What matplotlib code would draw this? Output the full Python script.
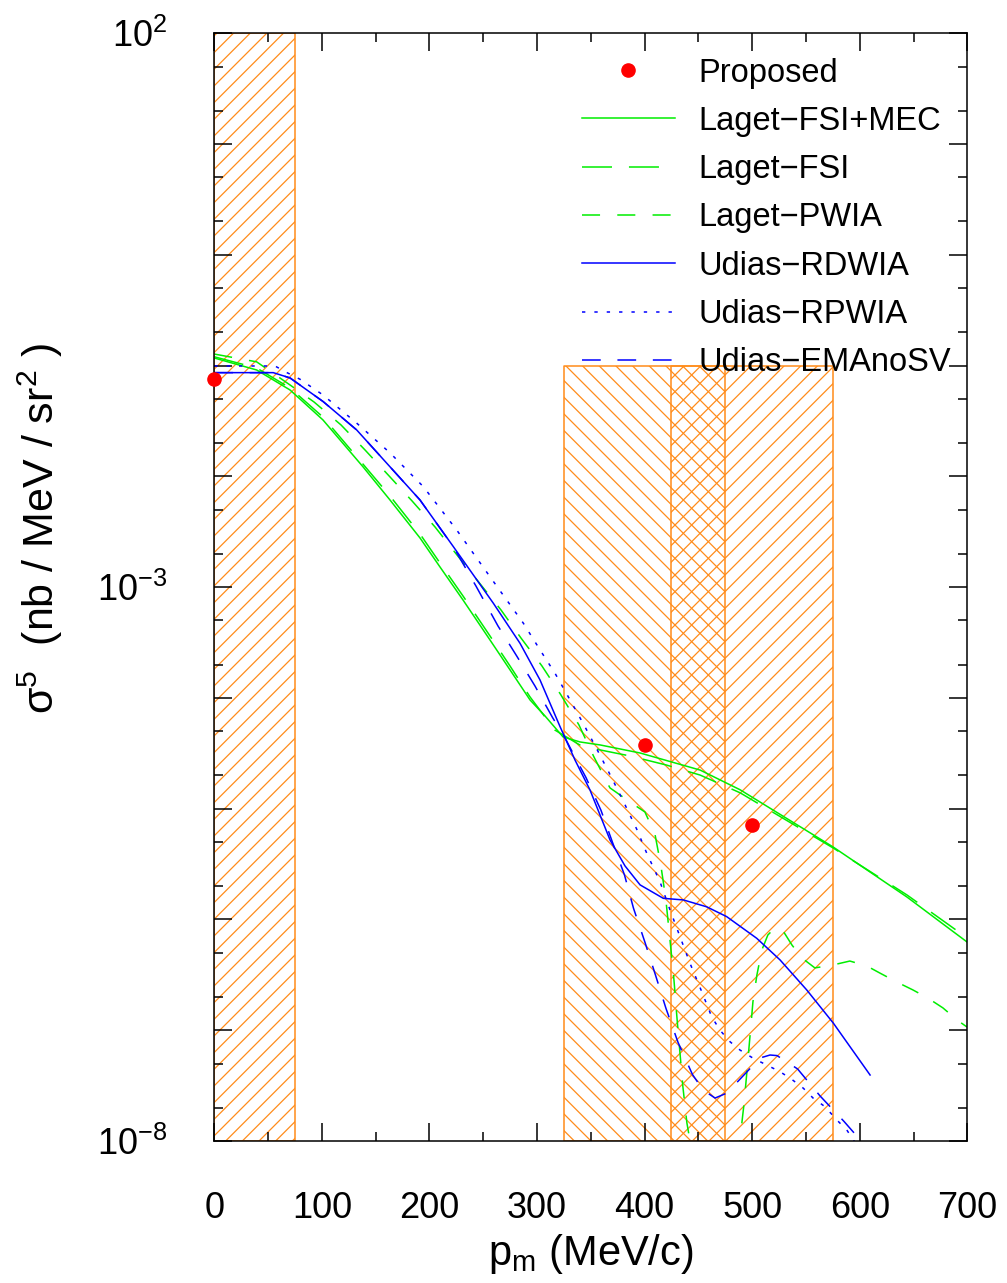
import numpy as np
import matplotlib
matplotlib.use("Agg")
import matplotlib.pyplot as plt
from matplotlib.ticker import MultipleLocator, LogLocator, FixedLocator, FuncFormatter, NullFormatter

plt.rcParams['font.family'] = ['Liberation Sans', 'DejaVu Sans']
plt.rcParams['mathtext.fontset'] = 'custom'
plt.rcParams['mathtext.rm'] = 'Liberation Sans'
plt.rcParams['mathtext.it'] = 'Liberation Sans:italic'
plt.rcParams['mathtext.default'] = 'rm'
plt.rcParams['hatch.linewidth'] = 0.9
plt.rcParams['lines.scale_dashes'] = False

# proposed measurements
prop_p = [0, 400, 500]
prop_sig = [7.6e-2, 3.76e-5, 7.13e-6]

# Laget FSI+MEC
fsimec_p = [0, 39.4, 70.4, 101.0, 138.2, 163.3, 191.2, 209.8, 231.2, 256.3, 274.9, 293.5, 307.4,
            324.2, 340.0, 358.6, 395.8, 451.6, 488.8, 575.2, 644.0, 699.8]
fsimec_sig = [1.17e-1, 9.12e-2, 6.02e-2, 3.23e-2, 1.22e-2, 6.12e-3, 2.78e-3, 1.52e-3, 7.65e-4, 3.33e-4,
              1.79e-4, 9.58e-5, 6.87e-5, 4.44e-5, 4.00e-5, 3.76e-5, 3.18e-5, 2.23e-5, 1.48e-5,
              4.51e-6, 1.59e-6, 6.25e-7]

# Laget FSI
fsi_p = [0, 39.4, 70.4, 101.0, 138.2, 163.3, 191.2, 209.8, 231.2, 256.3, 274.9, 293.5, 316.5,
         339.7, 358.6, 386.4, 420.0, 451.6, 488.8, 575.2, 644.0, 699.8]
fsi_sig = [1.20e-1, 9.51e-2, 6.28e-2, 3.43e-2, 1.29e-2, 6.65e-3, 3.02e-3, 1.65e-3, 8.32e-4, 3.62e-4,
           1.94e-4, 1.02e-4, 5.13e-5, 3.76e-5, 3.39e-5, 2.99e-5, 2.48e-5, 2.01e-5, 1.39e-5,
           4.42e-6, 1.66e-6, 6.81e-7]

# Laget PWIA
pwia_p = [0, 39.4, 70.4, 92.7, 117.8, 140.1, 162.4, 183.8, 205.2, 225.6, 266.5, 285.1, 304.6, 322.3,
          339.0, 352.9, 367.8, 386.4, 400.3, 409.6, 415.2, 419.8, 423.6, 427.3, 430.1, 432.8, 435.6,
          439.3, 446.8, 465.4, 481.2, 488.6, 492.3, 495.1, 497.9, 500.7, 504.4, 509.0, 514.6, 521.1,
          527.6, 536.9, 546.2, 558.3, 575.0, 590.8, 606.6, 618.7, 634.5, 649.4, 663.3, 677.3, 690.3, 699.6]
pwia_sig = [1.27e-1, 1.08e-1, 6.68e-2, 4.69e-2, 2.91e-2, 1.73e-2, 1.01e-2, 6.00e-3, 3.49e-3, 1.95e-3,
            6.22e-4, 3.47e-4, 1.94e-4, 1.06e-4, 5.69e-5, 2.93e-5, 1.54e-5, 1.15e-5, 9.33e-6, 5.91e-6,
            3.04e-6, 1.50e-6, 6.53e-7, 2.84e-7, 1.29e-7, 6.37e-8, 3.08e-8, 1.46e-8, 5.5e-9, 1.9e-9,
            4.5e-9, 1.02e-8, 2.11e-8, 4.20e-8, 8.69e-8, 1.80e-7, 3.15e-7, 5.30e-7, 7.24e-7, 8.37e-7,
            8.20e-7, 5.89e-7, 4.49e-7, 3.65e-7, 3.88e-7, 4.21e-7, 3.80e-7, 3.28e-7, 2.72e-7, 2.31e-7,
            1.95e-7, 1.59e-7, 1.24e-7, 1.07e-7]

# Udias RDWIA
rdwia_p = [0, 54.8, 70.4, 101.3, 132.4, 163.3, 191.2, 222.2, 259.4, 284.2, 302.8, 321.4, 335.3, 349.3,
           367.9, 381.8, 395.8, 417.4, 436.0, 457.7, 476.3, 504.2, 525.9, 550.7, 575.4, 609.6]
rdwia_sig = [8.63e-2, 8.63e-2, 7.73e-2, 4.72e-2, 2.62e-2, 1.22e-2, 6.12e-3, 2.32e-3, 7.15e-4, 3.11e-4,
             1.45e-4, 5.50e-5, 2.75e-5, 1.47e-5, 5.21e-6, 3.04e-6, 2.05e-6, 1.55e-6, 1.50e-6, 1.30e-6,
             1.06e-6, 6.76e-7, 4.31e-7, 2.31e-7, 1.16e-7, 3.94e-8]

# Udias RPWIA
rpwia_p = [0, 56.4, 67.6, 79.7, 101.0, 132.4, 163.3, 194.3, 225.3, 256.3, 287.3, 302.8, 316.7, 330.7,
           343.7, 356.0, 368.8, 380.9, 392.7, 402.0, 414.3, 423.6, 432.9, 442.2, 453.1, 462.4, 470.1,
           479.4, 488.7, 501.1, 513.5, 525.9, 536.8, 547.6, 556.8, 567.7, 578.6, 587.9, 594.0, 600.3]
rpwia_sig = [9.91e-2, 9.91e-2, 8.63e-2, 7.52e-2, 5.43e-2, 3.02e-2, 1.63e-2, 8.07e-3, 3.28e-3, 1.24e-3,
             4.72e-4, 2.71e-4, 1.67e-4, 9.58e-5, 5.69e-5, 3.39e-5, 1.95e-5, 1.13e-5, 6.52e-6, 3.96e-6,
             2.19e-6, 1.22e-6, 6.99e-7, 4.02e-7, 2.23e-7, 1.32e-7, 1.00e-7, 7.87e-8, 6.62e-8, 5.57e-8,
             4.85e-8, 4.22e-8, 3.60e-8, 2.99e-8, 2.43e-8, 2.04e-8, 1.55e-8, 1.26e-8, 1.02e-8, 8.3e-9]

# Udias EMA noSV
ema_p = [0, 54.8, 70.4, 101.3, 132.4, 163.3, 191.2, 222.2, 243.3, 263.7, 281.1, 298.1, 314.4, 326.0,
         337.2, 345.5, 359.5, 370.2, 381.3, 389.7, 400.4, 410.1, 419.9, 431.1, 444.5, 454.3, 465.5,
         476.6, 491.0, 507.3, 516.6, 523.1, 542.2, 563.1, 585.4, 596.5, 604.9]
ema_sig = [8.63e-2, 8.63e-2, 7.73e-2, 4.72e-2, 2.62e-2, 1.22e-2, 6.12e-3, 2.31e-3, 1.02e-3, 4.46e-4,
           2.39e-4, 1.28e-4, 6.65e-5, 4.35e-5, 2.70e-5, 1.91e-5, 9.64e-6, 4.95e-6, 2.52e-6, 1.26e-6,
           6.19e-7, 3.15e-7, 1.57e-7, 7.75e-8, 3.98e-8, 2.89e-8, 2.44e-8, 2.71e-8, 3.82e-8, 5.61e-8,
           5.97e-8, 5.90e-8, 4.47e-8, 2.55e-8, 1.50e-8, 1.13e-8, 8.65e-9]

# hatched acceptance regions
region_lo = [0, 325, 425]
region_hi = [75, 475, 575]
region_top = [1e2, 1e-1, 1e-1]
region_hatch = ['//', '\\\\', '//']

orange = '#ff8c1a'
green = '#00ee00'
blue = '#0000ff'

fig = plt.figure(figsize=(10.07, 12.83), dpi=100)
ax = fig.add_axes([0.2128, 0.1107, 0.7478, 0.8634])
ax.set_yscale('log')

for lo, hi, top, h in zip(region_lo, region_hi, region_top, region_hatch):
    ax.fill_between([lo, hi], 1e-8, top, facecolor='none', edgecolor=orange,
                    hatch=h, linewidth=1.1, zorder=1)

ax.plot(prop_p, prop_sig, 'o', color='red', ms=9.5, ls='none', clip_on=False, zorder=5, label='Proposed')
ax.plot(fsimec_p, fsimec_sig, color=green, lw=1.1, label='Laget\u2212FSI+MEC')
ax.plot(fsi_p, fsi_sig, color=green, lw=1.1, dashes=(21.6, 12.2), label='Laget\u2212FSI')
ax.plot(pwia_p, pwia_sig, color=green, lw=1.1, dashes=(13, 12.4), label='Laget\u2212PWIA')
ax.plot(rdwia_p, rdwia_sig, color=blue, lw=1.1, label='Udias\u2212RDWIA')
ax.plot(rpwia_p, rpwia_sig, color=blue, lw=1.1, dashes=(2.4, 6.5), label='Udias\u2212RPWIA')
ax.plot(ema_p, ema_sig, color=blue, lw=1.1, dashes=(13.5, 12), label='Udias\u2212EMAnoSV')

ax.set_xlim(0, 700)
ax.set_ylim(1e-8, 1e2)

ax.xaxis.set_major_locator(MultipleLocator(100))
ax.xaxis.set_minor_locator(MultipleLocator(50))
ax.yaxis.set_major_locator(FixedLocator([10.0**k for k in range(-8, 3)]))
ax.yaxis.set_minor_locator(LogLocator(base=10, subs=(2, 5), numticks=30))
ax.yaxis.set_minor_formatter(NullFormatter())

def ylab(v, pos):
    k = int(round(np.log10(v)))
    if k in (2, -3, -8):
        return r'$10^{%d}$' % k
    return ''

ax.yaxis.set_major_formatter(FuncFormatter(ylab))

ax.tick_params(which='both', direction='in', top=True, right=True, width=1.1)
ax.tick_params(which='major', length=13, labelsize=26)
ax.tick_params(axis='x', which='major', pad=36)
ax.tick_params(axis='y', which='major', pad=34)
ax.tick_params(which='minor', length=6.5)
for s in ax.spines.values():
    s.set_linewidth(1.1)

ax.set_xlabel(r'p$_{m}$ (MeV/c)', fontsize=30)
ax.xaxis.label.set_va('top')
ax.xaxis.set_label_coords(0.5, -0.082)
ax.set_ylabel(r'$\sigma^{5}$  (nb / MeV / sr$^{2}$ )', fontsize=31)
ax.yaxis.label.set_va('center')
ax.yaxis.set_label_coords(-0.2315, 0.553)

ax.legend(loc='upper left', bbox_to_anchor=(0.488, 0.978), frameon=False, fontsize=23.5,
          handlelength=2.85, handletextpad=0.72, labelspacing=0.53, borderpad=0,
          borderaxespad=0, numpoints=1)

fig.savefig('out.png', dpi=100)
